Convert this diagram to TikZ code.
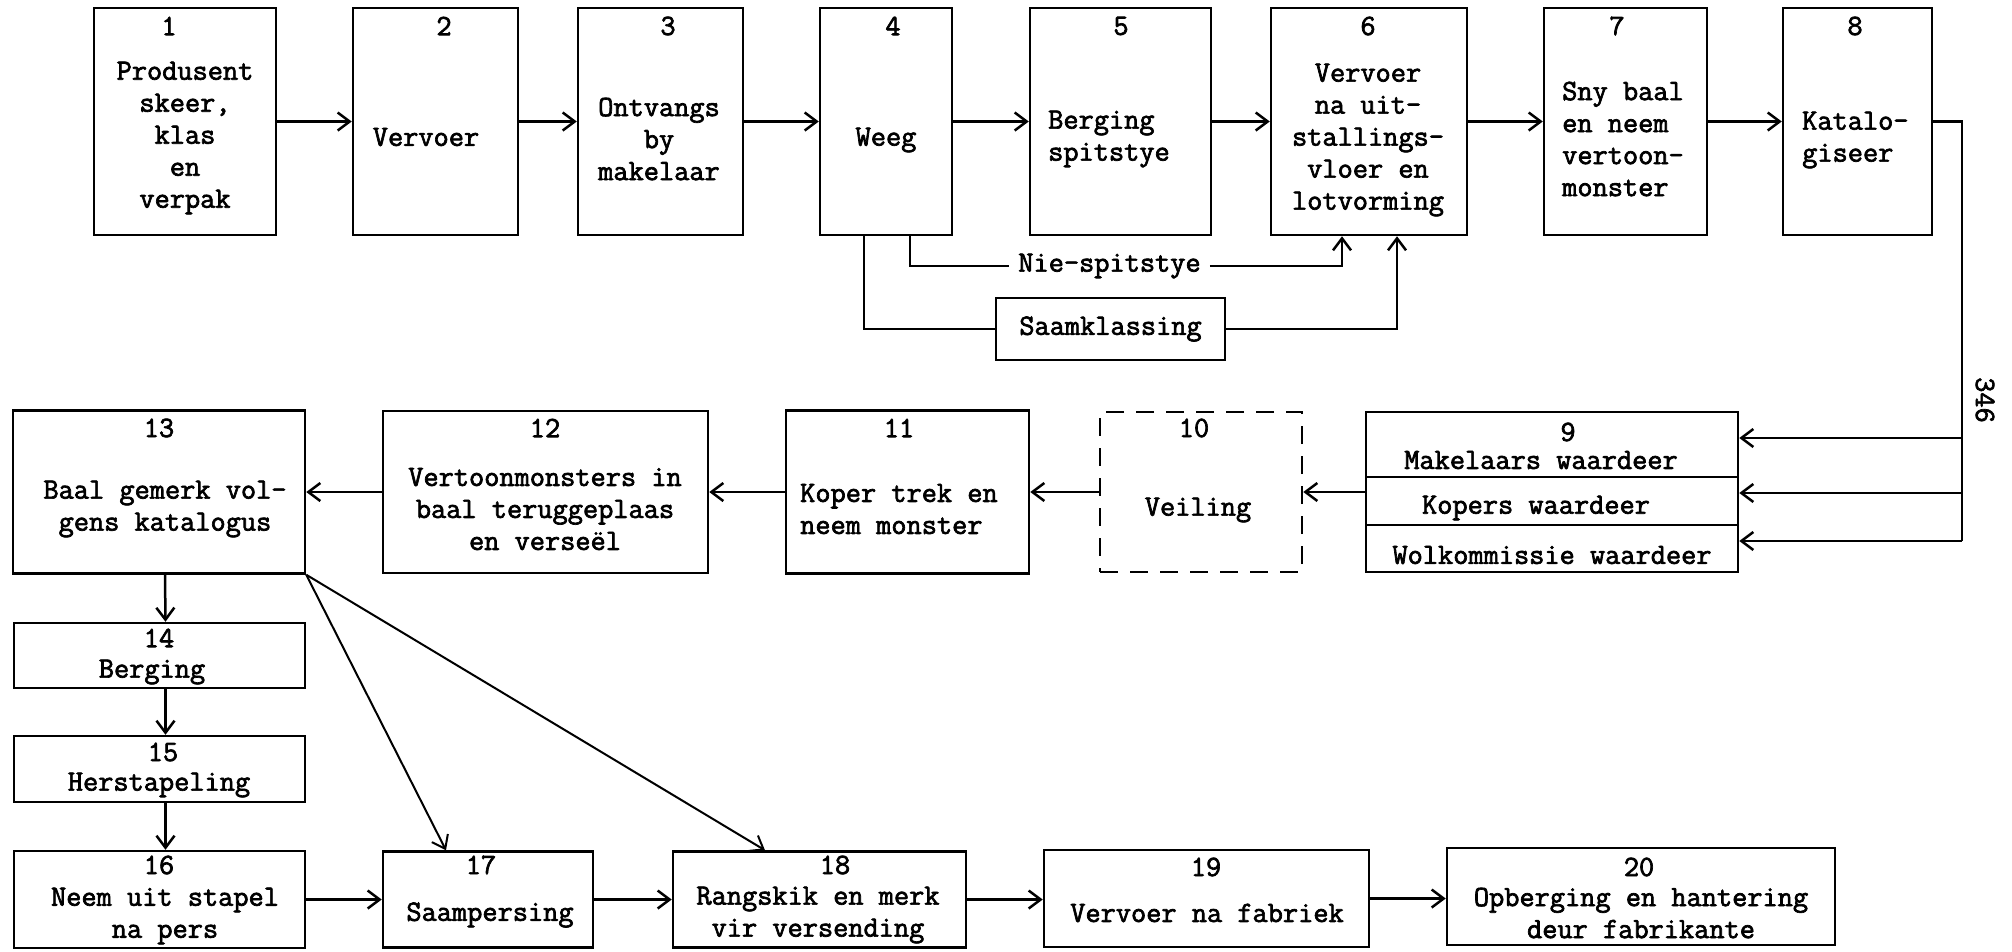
\documentclass[tikz,border=0pt]{standalone}
\usepackage{fontspec}
\newfontfamily\tw{Latin Modern Mono}[FakeBold=2.3]
\usetikzlibrary{arrows.meta}
\begin{document}
\begin{tikzpicture}[x=1pt,y=-1pt,
  font=\tw\fontsize{29.5}{32}\selectfont,
  box/.style={draw, line width=2.5pt, inner sep=0pt, rectangle},
  dbox/.style={box, dash pattern=on 18pt off 12pt},
  txt/.style={inner sep=0pt, align=center},
  ltxt/.style={inner sep=0pt, align=left, anchor=west},
  num/.style={inner sep=0pt},
  flow/.style={line width=2.5pt, -{Straight Barb[length=12pt,width=18pt]}},
  link/.style={line width=2.5pt},
]
\useasboundingbox (0,0) rectangle (2012,951);

% ---- top row: steps 1-8 ----
\node[box, minimum width=182pt, minimum height=227pt] (b1) at (185,121.5) {};
\node[box, minimum width=165pt, minimum height=227pt] (b2) at (435.5,121.5) {};
\node[box, minimum width=165pt, minimum height=227pt] (b3) at (660.5,121.5) {};
\node[box, minimum width=132pt, minimum height=227pt] (b4) at (886,121.5) {};
\node[box, minimum width=181pt, minimum height=227pt] (b5) at (1120.5,121.5) {};
\node[box, minimum width=196pt, minimum height=227pt] (b6) at (1369,121.5) {};
\node[box, minimum width=163pt, minimum height=227pt] (b7) at (1625.5,121.5) {};
\node[box, minimum width=149pt, minimum height=227pt] (b8) at (1857.5,121.5) {};

\node[num] (n1) at (169,26) {1};
\node[num] (n2) at (444,26) {2};
\node[num] (n3) at (668,26) {3};
\node[num] (n4) at (893,26) {4};
\node[num] (n5) at (1121,26) {5};
\node[num] (n6) at (1368,26) {6};
\node[num] (n7) at (1617,26) {7};
\node[num] (n8) at (1855,26) {8};

\node[txt] (t1) at (185,138) {Produsent\\skeer,\\klas\\en\\verpak};
\node[txt] (t2) at (426,137) {Vervoer};
\node[txt] (t3) at (659,139) {Ontvangs\\by\\makelaar};
\node[txt] (t4) at (886,140) {Weeg};
\node[ltxt] (t5) at (1048,139) {Berging\\spitstye};
\node[txt] (t6) at (1368,140) {Vervoer\\na uit-\\stallings-\\vloer en\\lotvorming};
\node[ltxt] (t7) at (1562,139) {Sny baal\\en neem\\vertoon-\\monster};
\node[ltxt] (t8) at (1802,140) {Katalo-\\giseer};

\draw[flow] (b1.east) -- (b2.west);
\draw[flow] (b2.east) -- (b3.west);
\draw[flow] (b3.east) -- (b4.west);
\draw[flow] (b4.east) -- (b5.west);
\draw[flow] (b5.east) -- (b6.west);
\draw[flow] (b6.east) -- (b7.west);
\draw[flow] (b7.east) -- (b8.west);

% ---- by-passes from weighing to step 6 ----
\node[inner xsep=9pt, inner ysep=0pt] (nie) at (1109.5,266) {Nie-spitstye};
\node[box, minimum width=229pt, minimum height=62pt] (sk) at (1110.5,329) {Saamklassing};
\draw[link] ([xshift=24pt]b4.south) |- (nie.west);
\draw[flow] (nie.east) -| ([xshift=-27pt]b6.south);
\draw[link] ([xshift=-22pt]b4.south) |- (sk.west);
\draw[flow] (sk.east) -| ([xshift=28pt]b6.south);

% ---- valuation block 9 and trunk from step 8 ----
\node[box, minimum width=372pt, minimum height=65pt] (b9a) at (1552,444.5) {};
\node[box, minimum width=372pt, minimum height=48pt] (b9b) at (1552,501) {};
\node[box, minimum width=372pt, minimum height=47pt] (b9c) at (1552,548.5) {};
\node[num] (n9) at (1568,432) {9};
\node[txt] (t9a) at (1541,460) {Makelaars waardeer};
\node[txt] (t9b) at (1536,508) {Kopers waardeer};
\node[txt] (t9c) at (1552,555) {Wolkommissie waardeer};

\coordinate (k1) at (1962,438);
\coordinate (k2) at (1962,493);
\coordinate (k3) at (1962,541);
\draw[link] (b8.east) -| (k3);
\draw[flow] (k1) -- (k1 -| b9a.east);
\draw[flow] (k2) -- (k2 -| b9b.east);
\draw[flow] (k3) -- (k3 -| b9c.east);
\node[num, rotate=-90] (pg) at (1985,400) {346};

% ---- second row: steps 10-13 ----
\node[dbox, minimum width=202pt, minimum height=160pt] (b10) at (1201,492) {};
\node[box, minimum width=243pt, minimum height=163pt] (b11) at (907.5,492) {};
\node[box, minimum width=325pt, minimum height=162pt] (b12) at (545.5,492) {};
\node[box, minimum width=292pt, minimum height=163pt] (b13) at (159,492) {};

\node[num] (n10) at (1194,428) {10};
\node[num] (n11) at (899,428) {11};
\node[num] (n12) at (545,428) {12};
\node[num] (n13) at (159,428) {13};

\node[txt] (t10) at (1198,510) {Veiling};
\node[ltxt] (t11) at (800,509) {Koper trek en\\neem monster};
\node[txt] (t12) at (545,509) {Vertoonmonsters in\\baal teruggeplaas\\en verseël};
\node[txt] (t13) at (165,509) {Baal gemerk vol-\\gens katalogus};

\draw[flow] (b9b.west |- b10.east) -- (b10.east);
\draw[flow] (b10.west) -- (b11.east);
\draw[flow] (b11.west) -- (b12.east);
\draw[flow] (b12.west) -- (b13.east);

% ---- left column and bottom row: steps 14-20 ----
\node[box, minimum width=291pt, minimum height=65pt] (b14) at (159.5,655.5) {};
\node[box, minimum width=291pt, minimum height=66pt] (b15) at (159.5,769) {};
\node[box, minimum width=291pt, minimum height=97pt] (b16) at (159.5,899.5) {};
\node[box, minimum width=210pt, minimum height=96pt] (b17) at (488,899.5) {};
\node[box, minimum width=293pt, minimum height=96pt] (b18) at (819.5,899.5) {};
\node[box, minimum width=325pt, minimum height=97pt] (b19) at (1206.5,898.5) {};
\node[box, minimum width=388pt, minimum height=97pt] (b20) at (1641,896.5) {};

\node[num] (n14) at (159,638) {14};
\node[num] (n15) at (163,752) {15};
\node[num] (n16) at (159,865) {16};
\node[num] (n17) at (481,865) {17};
\node[num] (n18) at (835,865) {18};
\node[num] (n19) at (1206,867) {19};
\node[num] (n20) at (1639,867) {20};

\node[txt] (t14) at (152,672) {Berging};
\node[txt] (t15) at (159,785) {Herstapeling};
\node[txt] (t16) at (165,916) {Neem uit stapel\\na pers};
\node[txt] (t17) at (490,915) {Saampersing};
\node[txt] (t18) at (818,915) {Rangskik en merk\\vir versending};
\node[txt] (t19) at (1207,913) {Vervoer na fabriek};
\node[txt] (t20) at (1641,913) {Opberging en hantering\\deur fabrikante};

\draw[flow] ([xshift=6pt]b13.south) -- ([xshift=6pt]b14.north);
\draw[flow] ([xshift=6pt]b14.south) -- ([xshift=6pt]b15.north);
\draw[flow] ([xshift=6pt]b15.south) -- ([xshift=6pt]b16.north);
\draw[flow, line width=2pt] (b13.south east) -- ([xshift=-42pt]b17.north);
\draw[flow, line width=2pt] (b13.south east) -- ([xshift=-54.5pt]b18.north);

\draw[flow] (b16.east) -- (b16.east -| b17.west);
\draw[flow] (b17.east) -- (b17.east -| b18.west);
\draw[flow] (b18.east) -- (b18.east -| b19.west);
\draw[flow] (b19.east) -- (b19.east -| b20.west);
\end{tikzpicture}
\end{document}
